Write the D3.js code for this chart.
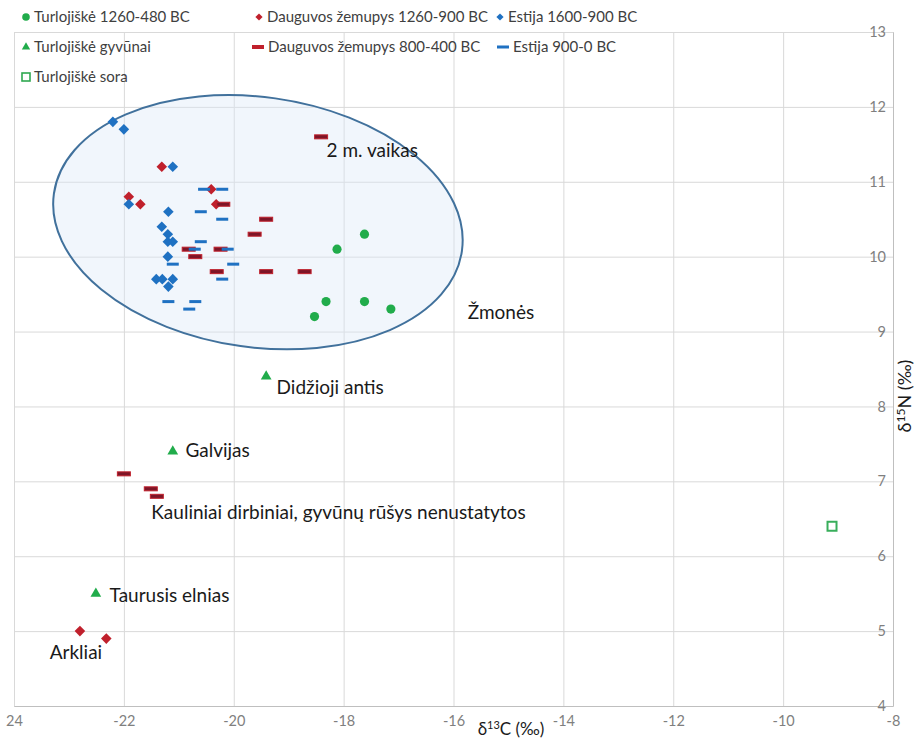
<!DOCTYPE html>
<html>
<head>
<meta charset="utf-8">
<script src="https://cdn.jsdelivr.net/npm/d3@7"></script>
<style>
  body { margin: 0; background: #fff; }
  svg { display: block; font-family: Lato, "Open Sans", sans-serif; }
  .grid line { stroke: #d9d9d9; stroke-width: 1; }
  .grid path { display: none; }
  .axis path { stroke: #bfbfbf; }
  .axis text { fill: #7f7f7f; font-size: 14.5px; font-family: Lato, sans-serif; }
  .legend text { fill: #404040; font-size: 15px; }
  .note { fill: #1a1a1a; font-size: 19px; }
</style>
</head>
<body>
<div id="chart"></div>
<script>
// δ13C / δ15N values
const turlojiskeHumans = [[-18.12, 10.1], [-17.62, 10.3], [-18.32, 9.4], [-17.62, 9.4], [-18.53, 9.2], [-17.14, 9.3]];
const dauguva1260 = [[-22.8, 5.0], [-22.32, 4.9], [-21.31, 11.2], [-21.91, 10.8], [-21.7, 10.7], [-20.41, 10.9], [-20.32, 10.7]];
const estonia1600 = [[-22.2, 11.8], [-22.0, 11.7], [-21.11, 11.2], [-21.91, 10.7], [-21.19, 10.6], [-21.31, 10.4], [-21.2, 10.3],
  [-21.2, 10.2], [-21.11, 10.2], [-21.2, 10.0], [-21.41, 9.7], [-21.3, 9.7], [-21.11, 9.7], [-21.19, 9.6]];
const turlojiskeAnimals = [[-19.41, 8.4], [-21.11, 7.4], [-22.51, 5.5]];
const dauguva800 = [[-18.41, 11.6], [-19.41, 10.5], [-19.62, 10.3], [-20.82, 10.1], [-20.7, 10.0], [-20.24, 10.1], [-20.19, 10.7],
  [-20.31, 9.8], [-19.41, 9.8], [-18.71, 9.8], [-22.0, 7.1], [-21.51, 6.9], [-21.4, 6.8]];
const estonia900 = [[-20.54, 10.9], [-20.21, 10.9], [-20.6, 10.6], [-20.21, 10.5], [-20.6, 10.2], [-20.71, 10.1], [-20.11, 10.1],
  [-21.11, 9.9], [-20.01, 9.9], [-20.21, 9.7], [-21.19, 9.4], [-20.7, 9.4], [-20.81, 9.3]];
const turlojiskeMillet = [[-9.11, 6.4]];

const seriesNames = ['Turlojiškė 1260-480 BC', 'Dauguvos žemupys 1260-900 BC', 'Estija 1600-900 BC',
  'Turlojiškė gyvūnai', 'Dauguvos žemupys 800-400 BC', 'Estija 900-0 BC', 'Turlojiškė sora'];

const xTicks = [-24, -22, -20, -18, -16, -14, -12, -10, -8];
const xTickLabels = ['24', '-22', '-20', '-18', '-16', '-14', '-12', '-10', '-8'];
const yTicks = [4, 5, 6, 7, 8, 9, 10, 11, 12, 13];

const notes = [
  { text: '2 m. vaikas', x: -18.31, y: 11.42 },
  { text: 'Žmonės', x: -15.74, y: 9.25 },
  { text: 'Didžioji antis', x: -19.22, y: 8.26 },
  { text: 'Galvijas', x: -20.88, y: 7.41 },
  { text: 'Kauliniai dirbiniai, gyvūnų rūšys nenustatytos', x: -21.5, y: 6.58 },
  { text: 'Taurusis elnias', x: -22.26, y: 5.48 },
  { text: 'Arkliai', x: -23.35, y: 4.71 }
];

// "Žmonės" group outline, centre and radii in data units
const humanEllipse = { cx: -19.56, cy: 10.46, rx: 3.75, ry: 1.67, tilt: 8 };

const width = 916, height = 743;
const svg = d3.select('#chart').append('svg').attr('width', width).attr('height', height);

const x = d3.scaleLinear().domain([-24, -8]).range([14, 893]);
const y = d3.scaleLinear().domain([4, 13]).range([706, 32]);

// gridlines
svg.append('g').attr('class', 'grid')
  .attr('transform', 'translate(0,706)')
  .call(d3.axisBottom(x).tickValues(xTicks).tickSize(-674).tickFormat(''));
svg.append('g').attr('class', 'grid')
  .attr('transform', 'translate(893,0)')
  .call(d3.axisLeft(y).tickValues(yTicks).tickSize(879).tickFormat(''));

// ellipse
const ex = x(humanEllipse.cx), ey = y(humanEllipse.cy);
svg.append('ellipse')
  .attr('cx', ex).attr('cy', ey)
  .attr('rx', x(humanEllipse.cx + humanEllipse.rx) - ex)
  .attr('ry', ey - y(humanEllipse.cy + humanEllipse.ry))
  .attr('transform', `rotate(${humanEllipse.tilt},${ex},${ey})`)
  .style('fill', '#dbe9f7').style('fill-opacity', 0.4)
  .style('stroke', '#41719c').style('stroke-width', 2);

// axes
svg.append('g').attr('class', 'axis')
  .attr('transform', 'translate(0,706)')
  .call(d3.axisBottom(x).tickValues(xTicks).tickSize(0).tickPadding(10)
    .tickFormat((d, i) => xTickLabels[i]));
const yAxis = svg.append('g').attr('class', 'axis')
  .attr('transform', 'translate(893,0)')
  .call(d3.axisLeft(y).tickValues(yTicks).tickSize(0).tickPadding(7));
yAxis.selectAll('text').attr('text-anchor', 'end');

// marks
const plot = svg.append('g');
const sym = (type, size) => d3.symbol().type(type).size(size)();

function points(data, path, style, rotate) {
  plot.append('g').selectAll('path')
    .data(data)
    .enter().append('path')
    .attr('d', path)
    .attr('transform', d => `translate(${x(d[0])},${y(d[1])})` + (rotate ? ' rotate(45)' : ''))
    .style('fill', style.fill)
    .style('stroke', style.stroke || 'none')
    .style('stroke-width', style.sw || 0);
}
function dashes(data, w, h, style) {
  plot.append('g').selectAll('rect')
    .data(data)
    .enter().append('rect')
    .attr('x', d => x(d[0]) - w / 2)
    .attr('y', d => y(d[1]) - h / 2)
    .attr('width', w).attr('height', h)
    .style('fill', style.fill)
    .style('stroke', style.stroke || 'none')
    .style('stroke-width', style.sw || 0);
}

const green = '#21ac4b', red = '#c0202c', blue = '#1f71c2';
points(turlojiskeHumans, sym(d3.symbolCircle, 66), { fill: green });
points(dauguva1260, sym(d3.symbolSquare, 56), { fill: red }, true);
points(estonia1600, sym(d3.symbolSquare, 56), { fill: blue }, true);
points(turlojiskeAnimals, sym(d3.symbolTriangle, 50), { fill: green });
dashes(dauguva800, 13, 4, { fill: '#7d1527', stroke: '#c0202c', sw: 1 });
dashes(estonia900, 12, 3, { fill: blue });
points(turlojiskeMillet, sym(d3.symbolSquare, 81), { fill: 'none', stroke: '#38ae5b', sw: 2 });

// annotations
svg.append('g').selectAll('text')
  .data(notes)
  .enter().append('text')
  .attr('class', 'note')
  .attr('x', d => x(d.x))
  .attr('y', d => y(d.y))
  .attr('dy', '0.35em')
  .text(d => d.text);

// axis titles
const xTitle = svg.append('text').attr('x', 511).attr('y', 735)
  .attr('text-anchor', 'middle').style('font-size', '17px').style('fill', '#1a1a1a');
xTitle.append('tspan').text('δ');
xTitle.append('tspan').attr('dy', -6).style('font-size', '11px').text('13');
xTitle.append('tspan').attr('dy', 6).text('C (‰)');

const yTitle = svg.append('text').attr('transform', 'translate(911,396) rotate(-90)')
  .attr('text-anchor', 'middle').style('font-size', '18px').style('fill', '#1a1a1a');
yTitle.append('tspan').text('δ');
yTitle.append('tspan').attr('dy', -6).style('font-size', '12px').text('15');
yTitle.append('tspan').attr('dy', 6).text('N (‰)');

// legend
const legendPos = [[26, 17], [259, 17], [500, 17], [26, 47], [258, 47], [503, 47], [26, 77]];
const legend = svg.append('g').attr('class', 'legend');
const legendItems = legend.selectAll('g')
  .data(seriesNames)
  .enter().append('g')
  .attr('transform', (d, i) => `translate(${legendPos[i][0]},${legendPos[i][1]})`);

legendItems.each(function (d, i) {
  const g = d3.select(this);
  if (i === 0) g.append('circle').attr('r', 3.8).style('fill', green);
  if (i === 1 || i === 2) g.append('path').attr('d', sym(d3.symbolSquare, 26)).attr('transform', 'rotate(45)').style('fill', i === 1 ? red : blue);
  if (i === 3) g.append('path').attr('d', sym(d3.symbolTriangle, 30)).style('fill', green);
  if (i === 4) g.append('rect').attr('x', -6).attr('y', -2).attr('width', 12).attr('height', 4).style('fill', red);
  if (i === 5) g.append('rect').attr('x', -6).attr('y', -1.5).attr('width', 12).attr('height', 3).style('fill', blue);
  if (i === 6) g.append('rect').attr('x', -4).attr('y', -4).attr('width', 8).attr('height', 8).style('fill', 'none').style('stroke', '#2fa850').style('stroke-width', 1.6);
  g.append('text').attr('x', i === 4 || i === 5 ? 10 : 8).attr('dy', '0.35em').text(d);
});
</script>
</body>
</html>
